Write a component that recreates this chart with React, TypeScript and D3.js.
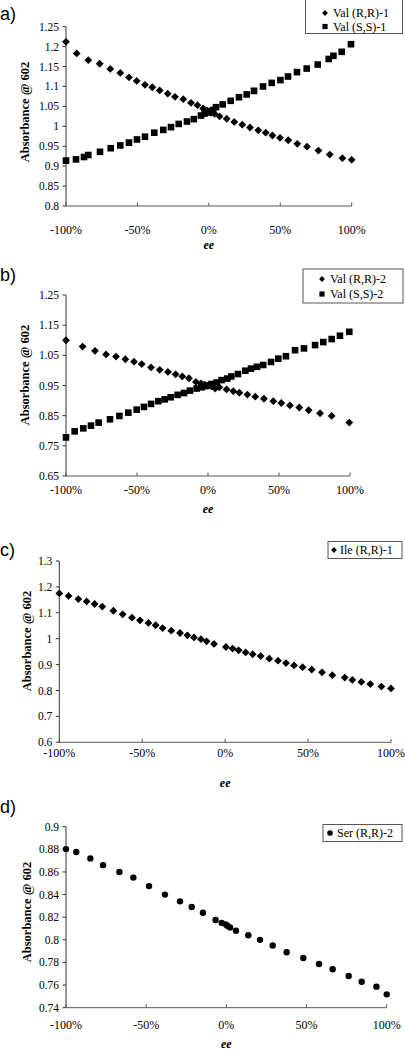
import React from "react";
import * as d3 from "d3";

// ---------- DATA ----------
const xTickValues = [-100, -50, 0, 50, 100];
const xTickLabels = ["-100%", "-50%", "0%", "50%", "100%"];

// Panel a
const aTicks = [0.8, 0.85, 0.9, 0.95, 1, 1.05, 1.1, 1.15, 1.2, 1.25];
const aRRx = [-100, -92.5, -84.4, -76.4, -69, -62, -55.9, -50.5, -44.7, -39.6, -34.4, -28.8, -23.7, -17.9, -12.5, -8, -4, -1.5, 0, 1.5, 4, 7.5, 12.5, 17.8, 23.4, 28.8, 34.6, 39.8, 44.5, 49.8, 55.6, 61.9, 68.7, 76.7, 84.6, 93.5, 100];
const aRRy = [1.212, 1.183, 1.166, 1.157, 1.144, 1.134, 1.123, 1.114, 1.104, 1.098, 1.09, 1.082, 1.074, 1.068, 1.059, 1.053, 1.045, 1.04, 1.037, 1.034, 1.031, 1.025, 1.019, 1.011, 1.004, 0.997, 0.99, 0.984, 0.977, 0.971, 0.965, 0.956, 0.949, 0.939, 0.929, 0.92, 0.916];
const aSSx = [-100, -93, -87.4, -84.4, -76.2, -68.7, -62, -55.9, -50.3, -44.7, -38.2, -31.9, -26.5, -21.1, -15.3, -10.5, -5.5, -3, -1, 1, 3, 5, 9.7, 15.3, 21.1, 26.5, 31.6, 37.9, 44, 50.1, 55.4, 61.7, 68.5, 76.2, 83.9, 87.2, 93, 99.5];
const aSSy = [0.914, 0.917, 0.923, 0.928, 0.936, 0.945, 0.952, 0.959, 0.967, 0.974, 0.984, 0.991, 0.998, 1.006, 1.012, 1.018, 1.027, 1.032, 1.035, 1.038, 1.041, 1.048, 1.055, 1.064, 1.073, 1.08, 1.089, 1.1, 1.109, 1.116, 1.125, 1.136, 1.145, 1.155, 1.169, 1.177, 1.187, 1.206];

// Panel b
const bTicks = [0.65, 0.75, 0.85, 0.95, 1.05, 1.15, 1.25];
const bRRx = [-100, -88.3, -79.6, -71.8, -64.8, -58.2, -52.1, -46.7, -40.1, -34, -28.2, -22.8, -18.1, -13.4, -8.5, -5, -2.5, 0, 2.5, 5, 8, 13.1, 17.8, 22.1, 27.7, 33.3, 39.4, 46, 51.6, 57.7, 64.3, 70.9, 78.9, 87.1, 99.5];
const bRRy = [1.1, 1.079, 1.065, 1.053, 1.046, 1.037, 1.029, 1.021, 1.01, 1.002, 0.995, 0.987, 0.98, 0.974, 0.962, 0.957, 0.953, 0.95, 0.947, 0.94, 0.944, 0.937, 0.931, 0.926, 0.92, 0.913, 0.906, 0.898, 0.892, 0.884, 0.877, 0.868, 0.858, 0.849, 0.827];
const bSSx = [-100, -93.9, -87.8, -82.4, -77, -69, -62.4, -56.1, -50.2, -45.1, -40.1, -35, -30.5, -26.3, -21.4, -16.9, -12.7, -8, -4.5, -2, 0, 2.5, 6.1, 9.6, 13.6, 16.4, 21.1, 26.3, 30.3, 34.5, 38.9, 44.4, 49.5, 54.9, 61.3, 67.6, 75.4, 81.2, 87.1, 92.9, 99.5];
const bSSy = [0.778, 0.798, 0.808, 0.817, 0.827, 0.838, 0.849, 0.86, 0.87, 0.879, 0.889, 0.898, 0.904, 0.911, 0.919, 0.925, 0.933, 0.94, 0.944, 0.948, 0.95, 0.955, 0.96, 0.968, 0.973, 0.98, 0.988, 0.999, 1.006, 1.012, 1.018, 1.028, 1.039, 1.047, 1.067, 1.073, 1.084, 1.094, 1.104, 1.115, 1.128];

// Panel c
const cTicks = [0.6, 0.7, 0.8, 0.9, 1, 1.1, 1.2, 1.3];
const cRRx = [-100, -94.4, -88.5, -83.5, -78.7, -74.1, -67.4, -61.8, -56.2, -51.4, -46.3, -41.9, -37.7, -32.5, -27.2, -22.8, -18.8, -14.6, -11.2, -6.7, 0.5, 4.5, 8.1, 12.4, 16.6, 21.4, 26.6, 31.9, 36.7, 41.5, 46.7, 52.2, 58.4, 64.6, 72.1, 76.7, 82.1, 87.5, 94.2, 100];
const cRRy = [1.175, 1.165, 1.153, 1.144, 1.134, 1.124, 1.108, 1.094, 1.081, 1.071, 1.061, 1.052, 1.041, 1.031, 1.022, 1.013, 1.005, 0.998, 0.99, 0.98, 0.968, 0.962, 0.955, 0.947, 0.94, 0.933, 0.923, 0.915, 0.906, 0.897, 0.89, 0.881, 0.87, 0.859, 0.85, 0.841, 0.833, 0.825, 0.815, 0.808];

// Panel d
const dTicks = [0.74, 0.76, 0.78, 0.8, 0.82, 0.84, 0.86, 0.88, 0.9];
const dRRx = [-100, -93.6, -84.8, -76.9, -66.7, -58, -48.2, -38.3, -28.9, -21.6, -14.6, -6.7, -2.9, -0.4, 0.6, 2.3, 6, 13.7, 21, 28.9, 37.6, 48, 57.8, 66.3, 76.3, 84.4, 93.6, 100];
const dRRy = [0.8802, 0.8776, 0.872, 0.866, 0.86, 0.855, 0.8475, 0.84, 0.834, 0.829, 0.824, 0.8175, 0.815, 0.8137, 0.8125, 0.811, 0.808, 0.804, 0.8, 0.795, 0.789, 0.784, 0.7786, 0.774, 0.768, 0.763, 0.7586, 0.7518];

// ---------- DRAWING ----------
type Marker = "diamond" | "square" | "circle";
type Series = { name: string; xs: number[]; ys: number[]; marker: Marker };

const SERIF = "'Liberation Serif', 'Times New Roman', serif";
const SANS = "'Liberation Sans', Arial, sans-serif";

function markerPath(m: Marker, cx: number, cy: number, s: number): string {
  const p = d3.path();
  if (m === "diamond") {
    p.moveTo(cx, cy - s);
    p.lineTo(cx + s, cy);
    p.lineTo(cx, cy + s);
    p.lineTo(cx - s, cy);
    p.closePath();
  } else if (m === "square") {
    p.rect(cx - s, cy - s, 2 * s, 2 * s);
  } else {
    p.arc(cx, cy, s, 0, Math.PI * 2);
  }
  return p.toString();
}

const markerSize: Record<Marker, number> = { diamond: 3.9, square: 3.3, circle: 3.2 };
const legendMarkerSize: Record<Marker, number> = { diamond: 2.9, square: 2.6, circle: 2.8 };

type PanelProps = {
  label: string;
  labelY: number;
  x0: number;
  x1: number;
  yTop: number;
  yBottom: number;
  ticks: number[];
  series: Series[];
  titleX: number;
  titleY: number;
  tickLabelY: number;
  eeY: number;
  legend: { x: number; y: number; w: number; h: number; rows: number[]; mx: number; tx: number };
};

function Panel(p: PanelProps) {
  const x = d3.scaleLinear().domain([-100, 100]).range([p.x0, p.x1]);
  const y = d3
    .scaleLinear()
    .domain([p.ticks[0], p.ticks[p.ticks.length - 1]])
    .range([p.yBottom, p.yTop]);
  const fmt = (v: number) => String(+v.toFixed(3));
  return (
    <g>
      <text x={0} y={p.labelY} fontFamily={SANS} fontSize={18} fill="#000">
        {p.label}
      </text>
      {/* axes */}
      <line x1={p.x0} x2={p.x0} y1={p.yTop} y2={p.yBottom} stroke="#333" strokeWidth={1} />
      <line x1={p.x0} x2={p.x1} y1={p.yBottom} y2={p.yBottom} stroke="#555" strokeWidth={1} />
      {p.ticks.map((t) => (
        <g key={"yt" + t}>
          <line x1={p.x0 - 3.5} x2={p.x0} y1={y(t)} y2={y(t)} stroke="#333" />
          <text
            x={p.x0 - 7}
            y={y(t)}
            dy="0.35em"
            textAnchor="end"
            fontFamily={SERIF}
            fontSize={11.5}
            fill="#000"
          >
            {fmt(t)}
          </text>
        </g>
      ))}
      {xTickValues.map((t, i) => (
        <g key={"xt" + t}>
          <line x1={x(t)} x2={x(t)} y1={p.yBottom - 3.5} y2={p.yBottom} stroke="#555" />
          <text
            x={x(t)}
            y={p.tickLabelY}
            textAnchor="middle"
            fontFamily={SERIF}
            fontSize={12}
            fill="#000"
          >
            {xTickLabels[i]}
          </text>
        </g>
      ))}
      <text
        transform={`translate(${p.titleX},${p.titleY}) rotate(-90)`}
        textAnchor="middle"
        dy="0.35em"
        fontFamily={SERIF}
        fontWeight="bold"
        fontSize={12.5}
        fill="#000"
      >
        Absorbance @ 602
      </text>
      <text
        x={(p.x0 + p.x1) / 2}
        y={p.eeY}
        textAnchor="middle"
        fontFamily={SERIF}
        fontWeight="bold"
        fontStyle="italic"
        fontSize={12}
        fill="#000"
      >
        ee
      </text>
      {/* points */}
      {p.series.map((s) => (
        <g key={s.name}>
          {s.xs.map((xv, i) => (
            <path key={i} d={markerPath(s.marker, x(xv), y(s.ys[i]), markerSize[s.marker])} fill="#000" />
          ))}
        </g>
      ))}
      {/* legend */}
      <rect
        x={p.legend.x}
        y={p.legend.y}
        width={p.legend.w}
        height={p.legend.h}
        fill="#fff"
        stroke="#555"
        strokeWidth={1}
      />
      {p.series.map((s, i) => (
        <g key={"lg" + s.name}>
          <path
            d={markerPath(s.marker, p.legend.mx, p.legend.rows[i], legendMarkerSize[s.marker])}
            fill="#000"
          />
          <text
            x={p.legend.tx}
            y={p.legend.rows[i]}
            dy="0.35em"
            fontFamily={SERIF}
            fontSize={12}
            fill="#000"
          >
            {s.name}
          </text>
        </g>
      ))}
    </g>
  );
}

export default function App() {
  return (
    <svg
      width={405}
      height={1050}
      style={{ position: "absolute", left: 0, top: 0, background: "#fff" }}
    >
      <rect x={0} y={0} width={405} height={1050} fill="#fff" />
      <Panel
        label="a)"
        labelY={20}
        x0={66}
        x1={351.7}
        yTop={26.7}
        yBottom={206}
        ticks={aTicks}
        series={[
          { name: "Val (R,R)-1", xs: aRRx, ys: aRRy, marker: "diamond" },
          { name: "Val (S,S)-1", xs: aSSx, ys: aSSy, marker: "square" },
        ]}
        titleX={25}
        titleY={112}
        tickLabelY={234}
        eeY={249}
        legend={{ x: 305.5, y: -0.5, w: 97, h: 34, rows: [13, 26.5], mx: 325, tx: 333 }}
      />
      <Panel
        label="b)"
        labelY={281}
        x0={66}
        x1={350}
        yTop={295}
        yBottom={476}
        ticks={bTicks}
        series={[
          { name: "Val (R,R)-2", xs: bRRx, ys: bRRy, marker: "diamond" },
          { name: "Val (S,S)-2", xs: bSSx, ys: bSSy, marker: "square" },
        ]}
        titleX={25}
        titleY={375}
        tickLabelY={494}
        eeY={513}
        legend={{ x: 303, y: 269, w: 100, h: 34, rows: [279, 294], mx: 322, tx: 330 }}
      />
      <Panel
        label="c)"
        labelY={556}
        x0={59.3}
        x1={391}
        yTop={561}
        yBottom={742.3}
        ticks={cTicks}
        series={[{ name: "Ile (R,R)-1", xs: cRRx, ys: cRRy, marker: "diamond" }]}
        titleX={27}
        titleY={641}
        tickLabelY={757}
        eeY={787}
        legend={{ x: 328, y: 541.5, w: 74, h: 17, rows: [550], mx: 334, tx: 340 }}
      />
      <Panel
        label="d)"
        labelY={813}
        x0={66}
        x1={386.7}
        yTop={826.7}
        yBottom={1007.7}
        ticks={dTicks}
        series={[{ name: "Ser (R,R)-2", xs: dRRx, ys: dRRy, marker: "circle" }]}
        titleX={27}
        titleY={912}
        tickLabelY={1029}
        eeY={1047.5}
        legend={{ x: 323, y: 824.5, w: 79, h: 17, rows: [833], mx: 330, tx: 337 }}
      />
    </svg>
  );
}
